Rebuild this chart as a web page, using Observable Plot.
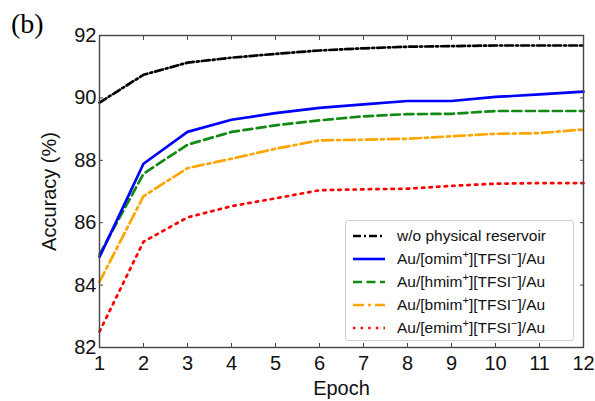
<!DOCTYPE html>
<html>
<head>
<meta charset="utf-8">
<script src="https://cdn.jsdelivr.net/npm/d3@7"></script>
<script src="https://cdn.jsdelivr.net/npm/@observablehq/plot@0.6"></script>
<style>
  html, body { margin: 0; padding: 0; background: #fff; }
  #wrap { position: relative; width: 595px; height: 401px; font-family: "Liberation Sans", Arial, sans-serif; }
  #panel { position: absolute; left: 11px; top: 8px; font-family: "Liberation Serif", "Times New Roman", serif; font-size: 28px; color: #000; }
  #legend { position: absolute; left: 345px; top: 220px; width: 229px; height: 121px; box-sizing: border-box;
    border: 1px solid #d0d0d0; border-radius: 3px; background: #fff; padding: 3px 0 0 6px; }
  .row { display: flex; align-items: center; height: 23px; font-size: 15.5px; color: #111; white-space: nowrap; }
  .row svg { margin-right: 11px; }
  sup { font-size: 11px; line-height: 0; vertical-align: 6px; }
</style>
</head>
<body>
<div id="wrap">
  <div id="chart"></div>
  <div id="panel">(b)</div>
  <div id="legend"></div>
</div>
<script>
const epochs = [1, 2, 3, 4, 5, 6, 7, 8, 9, 10, 11, 12];
const seriesNames = [
  "w/o physical reservoir",
  "Au/[omim+][TFSI−]/Au",
  "Au/[hmim+][TFSI−]/Au",
  "Au/[bmim+][TFSI−]/Au",
  "Au/[emim+][TFSI−]/Au"
];
const noReservoir = [89.85, 90.74, 91.13, 91.29, 91.41, 91.52, 91.59, 91.64, 91.66, 91.68, 91.68, 91.68];
const omim = [84.9, 87.89, 88.91, 89.3, 89.51, 89.68, 89.79, 89.9, 89.9, 90.03, 90.11, 90.2];
const hmim = [84.98, 87.57, 88.5, 88.91, 89.12, 89.28, 89.41, 89.48, 89.49, 89.58, 89.58, 89.58];
const bmim = [84.1, 86.85, 87.75, 88.05, 88.37, 88.64, 88.66, 88.69, 88.77, 88.85, 88.87, 88.99];
const emim = [82.51, 85.39, 86.17, 86.53, 86.78, 87.04, 87.07, 87.09, 87.18, 87.25, 87.27, 87.27];
const xTicks = [1, 2, 3, 4, 5, 6, 7, 8, 9, 10, 11, 12];
const yTicks = [82, 84, 86, 88, 90, 92];

const colors = ["#000000", "#0000ff", "#138a13", "#ffa500", "#ff0000"];
const dashes = ["8,3,2,3", null, "9,4.5", "11,4,3,4", "2.4,5.2"];
const allValues = [noReservoir, omim, hmim, bmim, emim];

const rows = [];
allValues.forEach((vals, s) => vals.forEach((v, i) => rows.push({series: seriesNames[s], epoch: epochs[i], acc: v})));

const marks = [];
[4, 3, 2, 1, 0].forEach(s => {
  marks.push(Plot.line(rows.filter(d => d.series === seriesNames[s]), {
    x: "epoch", y: "acc", stroke: colors[s], strokeWidth: 2.7,
    strokeDasharray: dashes[s] || undefined, strokeLinejoin: "round"
  }));
});

const chart = Plot.plot({
  width: 595, height: 401,
  marginLeft: 99, marginRight: 12, marginTop: 35, marginBottom: 54,
  style: {fontFamily: "Liberation Sans, Arial, sans-serif", fontSize: "20px", color: "#111", background: "#fff"},
  x: {domain: [1, 12]},
  y: {domain: [82, 92]},
  marks: [
    ...marks,
    Plot.frame({stroke: "#444", strokeWidth: 1.4}),
    Plot.axisX(xTicks, {anchor: "bottom", tickSize: -4, tickPadding: 12, fontSize: 20, label: "Epoch", labelAnchor: "center", labelArrow: "none", labelOffset: 47, stroke: "#444", tickFormat: d => d}),
    Plot.axisX(xTicks, {anchor: "top", tickSize: -4, label: null, tickFormat: () => "", stroke: "#444"}),
    Plot.axisY(yTicks, {anchor: "left", tickSize: -4, tickPadding: 7, fontSize: 20, label: "Accuracy (%)", labelAnchor: "center", labelArrow: "none", labelOffset: 58, stroke: "#444", tickFormat: d => d}),
    Plot.axisY(yTicks, {anchor: "right", tickSize: -4, label: null, tickFormat: () => "", stroke: "#444"})
  ]
});
document.getElementById("chart").appendChild(chart);

// Legend
const legend = document.getElementById("legend");
seriesNames.forEach((name, s) => {
  const row = document.createElement("div");
  row.className = "row";
  const svg = d3.create("svg").attr("width", 34).attr("height", 10);
  svg.append("line").attr("x1", 1).attr("x2", 33).attr("y1", 5).attr("y2", 5)
    .attr("stroke", colors[s]).attr("stroke-width", 2.6)
    .attr("stroke-dasharray", dashes[s]);
  row.appendChild(svg.node());
  const span = document.createElement("span");
  span.innerHTML = name.replace("+", "<sup>+</sup>").replace("−", "<sup>−</sup>");
  row.appendChild(span);
  legend.appendChild(row);
});
</script>
</body>
</html>
